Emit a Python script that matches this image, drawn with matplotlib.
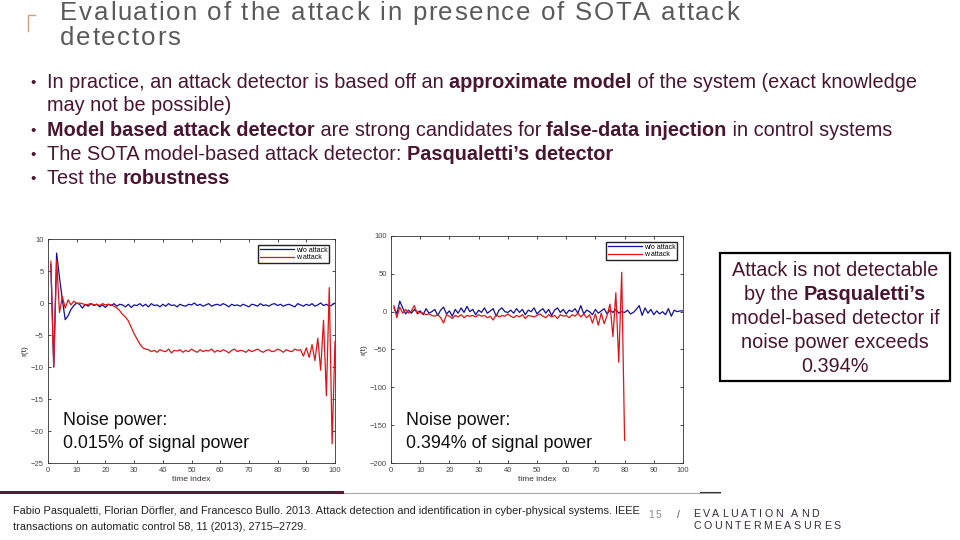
import matplotlib
matplotlib.use("Agg")
from matplotlib import pyplot as plt
from matplotlib.patches import Rectangle
from matplotlib.lines import Line2D
import numpy as np

# ---- data ----
t_left = np.arange(1, 101)
left_wo_attack = [6.0, -10.0, 7.8, 4.0, 0.5, -2.6, -2.0, -1.0, -0.4, 0.0,
                  -0.2, -0.8, -0.2, -0.5, -0.1, -0.4, -0.2, -0.6, -0.3, -0.7,
                  -0.2, -0.4, -0.1, -0.5, -0.2, -0.3, -0.6, -0.2, -0.7, -0.3,
                  -0.4, -0.1, -0.5, -0.2, -0.6, -0.1, -0.4, -0.3, -0.6, -0.2,
                  -0.5, -0.1, -0.4, -0.3, -0.6, -0.2, -0.4, -0.5, -0.2, -0.3,
                  0.0, -0.4, -0.2, -0.5, -0.3, -0.1, -0.5, -0.3, -0.2, -0.4,
                  -0.1, -0.3, -0.6, -0.2, -0.4, -0.3, -0.5, -0.2, -0.4, -0.6,
                  -0.2, -0.3, -0.5, -0.1, -0.4, -0.3, -0.5, -0.2, -0.1, -0.4,
                  -0.2, -0.5, -0.3, -0.2, -0.4, -0.6, -0.1, -0.3, -0.5, -0.2,
                  -0.4, -0.1, -0.5, -0.3, 0.0, -0.4, -0.2, -0.5, -0.3, 0.0]
left_w_attack = [6.5, -10.0, 6.7, -1.5, 1.0, -0.8, 0.5, -0.3, 0.3, -0.1,
                 0.0, -0.1, -0.3, -0.2, -0.1, -0.3, -0.2, -0.4, -0.1, -0.3,
                 -0.2, -0.3, -0.5, -0.8, -1.2, -1.8, -2.2, -2.8, -3.8, -4.8,
                 -5.6, -6.4, -7.0, -7.2, -7.3, -7.6, -7.4, -7.7, -7.3, -7.5,
                 -7.6, -7.2, -7.8, -7.4, -7.5, -7.3, -7.7, -7.4, -7.6, -7.2,
                 -7.5, -7.7, -7.3, -7.6, -7.4, -7.5, -7.2, -7.7, -7.4, -7.6,
                 -7.3, -7.5, -7.8, -7.4, -7.2, -7.6, -7.4, -7.5, -7.7, -7.3,
                 -7.6, -7.4, -7.2, -7.5, -7.7, -7.4, -7.3, -7.6, -7.5, -7.2,
                 -7.4, -7.7, -7.3, -7.5, -7.6, -7.2, -7.4, -7.3, -8.3, -7.0,
                 -8.5, -6.5, -9.0, -5.5, -10.5, -2.7, -14.5, 2.4, -22.0, -6.0]

t_right_wo = np.arange(1, 101)
right_wo_attack = [5, -3, 14, 5, -3, 2, -2, 3, -1, 1,
                   -4, 4, -2, 0, 3, -5, 2, 6, -3, 1,
                   -6, 3, -2, 5, -1, 7, 0, 3, -4, 2,
                   -1, 5, -2, 1, 4, -6, 2, 5, 0, -1,
                   2, -2, 4, -1, 3, -4, 2, 0, 5, -3,
                   1, 4, -2, 3, -5, 2, 5, -1, 3, -3,
                   2, 0, 4, -2, 8, -3, 2, 0, -4, 3,
                   -2, 1, 4, -3, 2, -1, 3, -2, 0, -1,
                   2, -3, -1, 3, 8, -5, 5, -2, 3, -4,
                   1, -3, 0, -4, 4, -6, 2, 0, 1, 1]
t_right_w = np.arange(1, 81)
right_w_attack = [8, -8, 6, -2, 3, -2, 1, 8, -3, -1,
                  -2, -4, -3, -5, -6, -4, -8, -15, -4, -6,
                  -9, -5, -7, -4, -8, -5, -6, -5, -7, -4,
                  -6, -5, -8, -6, -11, -4, -7, -5, -6, -3,
                  -6, -8, -5, -7, -4, -9, -5, -6, -7, -5,
                  -3, -6, -8, -4, -7, -5, -9, -4, -6, -5,
                  -8, -4, -6, -2, -7, -3, -8, -4, -15, -3,
                  -18, -2, -16, -5, 10, -33, 25, -67, 52, -170]

series_labels = ['w/o attack', 'w attack']

W, H = 960, 540
TXT = '#4a1531'
BLUE = '#10109a'
RED = '#e01414'

plt.rcParams['font.family'] = ['Liberation Sans', 'DejaVu Sans']

fig = plt.figure(figsize=(9.6, 5.4), dpi=100)
renderer = fig.canvas.get_renderer()


def fx(x):
    return x / W


def fy(y):
    return 1 - y / H


def text_width(s, **kw):
    # measure with bars around so that spaces count
    a = fig.text(0, 0, '|' + s + '|', **kw)
    b = fig.text(0, 0, '||', **kw)
    w = a.get_window_extent(renderer).width - b.get_window_extent(renderer).width
    a.remove()
    b.remove()
    return w


def rich_line(x, y, runs, size, color=TXT, ha='left'):
    items = []
    cur = x
    for s, bold in runs:
        kw = dict(fontsize=size, color=color, fontweight='bold' if bold else 'normal')
        w = text_width(s, **kw)
        items.append((cur, s, kw))
        cur += w
    shift = (cur - x) / 2 if ha == 'center' else 0
    for px, s, kw in items:
        fig.text(fx(px - shift), fy(y), s, va='baseline', ha='left', **kw)


def spaced_text(x, y, s, size, spacing, color, **kw):
    cur = x
    for ch in s:
        fig.text(fx(cur), fy(y), ch, fontsize=size, color=color, va='baseline', **kw)
        cur += text_width(ch, fontsize=size, **kw) + spacing


# ---- title ----
spaced_text(60, 20, 'Evaluation of the attack in presence of SOTA attack', 18.6, 1.7, '#5a5a5a')
spaced_text(60, 45, 'detectors', 18.6, 1.7, '#5a5a5a')
fig.add_artist(Line2D([fx(28), fx(28), fx(35)], [fy(31), fy(15), fy(15)],
                      color='#c9a27e', lw=1))

# ---- bullets ----
bullet_size = 14.3
for by in [87, 135, 159, 183]:
    fig.text(fx(30), fy(by), '•', fontsize=11, color=TXT, va='baseline')
rich_line(47, 88, [('In practice, an attack detector is based off an ', False),
                   ('approximate model', True),
                   (' of the system (exact knowledge', False)], bullet_size)
rich_line(47, 111, [('may not be possible)', False)], bullet_size)
rich_line(47, 136, [('Model based attack detector', True),
                    (' are strong candidates for ', False),
                    ('false-data injection', True),
                    (' in control systems', False)], bullet_size)
rich_line(47, 160, [('The SOTA model-based attack detector: ', False),
                    ("Pasqualetti’s detector", True)], bullet_size)
rich_line(47, 184, [('Test the ', False), ('robustness', True)], bullet_size)


# ---- plots ----
def style_axes(ax, xticks, yticks):
    ax.set_xlim(0, 100)
    ax.set_xticks(xticks)
    ax.set_yticks(yticks)
    ax.tick_params(direction='in', length=2.5, width=0.5, labelsize=5.5,
                   labelcolor='#444444', top=True, right=True, pad=3)
    for sp in ax.spines.values():
        sp.set_linewidth(0.6)
        sp.set_color('#333333')
    ax.set_xlabel('time index', fontsize=6, color='#333333', labelpad=1)
    ax.set_ylabel('r(t)', fontsize=6, color='#333333', labelpad=2)
    ax.legend(series_labels, loc='upper right', fontsize=5, handlelength=5,
              fancybox=False, edgecolor='#222222', framealpha=1,
              borderpad=0.2, labelspacing=0.1, handletextpad=0.2, borderaxespad=0.9)


ax1 = fig.add_axes([fx(48), fy(463), (335 - 48) / W, (463 - 239) / H])
ax1.plot(t_left, left_wo_attack, color=BLUE, lw=0.9)
ax1.plot(t_left, left_w_attack, color=RED, lw=0.9)
ax1.set_ylim(-25, 10)
style_axes(ax1, np.arange(0, 101, 10), np.arange(-25, 11, 5))

ax2 = fig.add_axes([fx(391), fy(463), (683 - 391) / W, (463 - 236) / H])
ax2.plot(t_right_wo, right_wo_attack, color=BLUE, lw=0.9)
ax2.plot(t_right_w, right_w_attack, color=RED, lw=0.9)
ax2.set_ylim(-200, 100)
style_axes(ax2, np.arange(0, 101, 10), np.arange(-200, 101, 50))

noise_size = 12.9
fig.text(fx(63), fy(425), 'Noise power:', fontsize=noise_size, color='#111111', va='baseline')
fig.text(fx(63), fy(448), '0.015% of signal power', fontsize=noise_size, color='#111111', va='baseline')
fig.text(fx(406), fy(425), 'Noise power:', fontsize=noise_size, color='#111111', va='baseline')
fig.text(fx(406), fy(448), '0.394% of signal power', fontsize=noise_size, color='#111111', va='baseline')

# ---- callout box ----
fig.add_artist(Rectangle((fx(720), fy(381)), (950 - 720) / W, (381 - 253) / H,
                         facecolor='white', edgecolor='black', lw=1.6))
rich_line(835, 276, [('Attack is not detectable', False)], bullet_size, ha='center')
rich_line(835, 300, [('by the ', False), ("Pasqualetti’s", True)], bullet_size, ha='center')
rich_line(835, 324, [('model-based detector if', False)], bullet_size, ha='center')
rich_line(835, 348, [('noise power exceeds', False)], bullet_size, ha='center')
rich_line(835, 372, [('0.394%', False)], bullet_size, ha='center')

# ---- footer ----
fig.add_artist(Line2D([fx(342), fx(720)], [fy(492.5), fy(492.5)], color='#aaaaaa', lw=0.8))
fig.add_artist(Line2D([fx(0), fx(342)], [fy(492), fy(492)], color='#5a1a35', lw=2.2))
fig.add_artist(Line2D([fx(700), fx(720)], [fy(492), fy(492)], color='#333333', lw=0.8))

ref_font = ['Liberation Sans Narrow', 'Liberation Sans', 'DejaVu Sans']
fig.text(fx(13), fy(514), 'Fabio Pasqualetti, Florian Dörfler, and Francesco Bullo. 2013. '
         'Attack detection and identification in cyber-physical systems. IEEE',
         fontsize=7.9, color='#222222', va='baseline', family=ref_font)
fig.text(fx(13), fy(530), 'transactions on automatic control 58, 11 (2013), 2715–2729.',
         fontsize=7.9, color='#222222', va='baseline', family=ref_font)

spaced_text(648, 518, '15', 7.5, 1.5, '#888888')
fig.text(fx(677), fy(518), '/', fontsize=7.5, color='#555555', va='baseline')
spaced_text(693, 517, 'EVALUATION AND', 7.7, 2.5, '#3a2a3a')
spaced_text(693, 529, 'COUNTERMEASURES', 7.7, 2.5, '#3a2a3a')

fig.savefig('out.png', dpi=100)
